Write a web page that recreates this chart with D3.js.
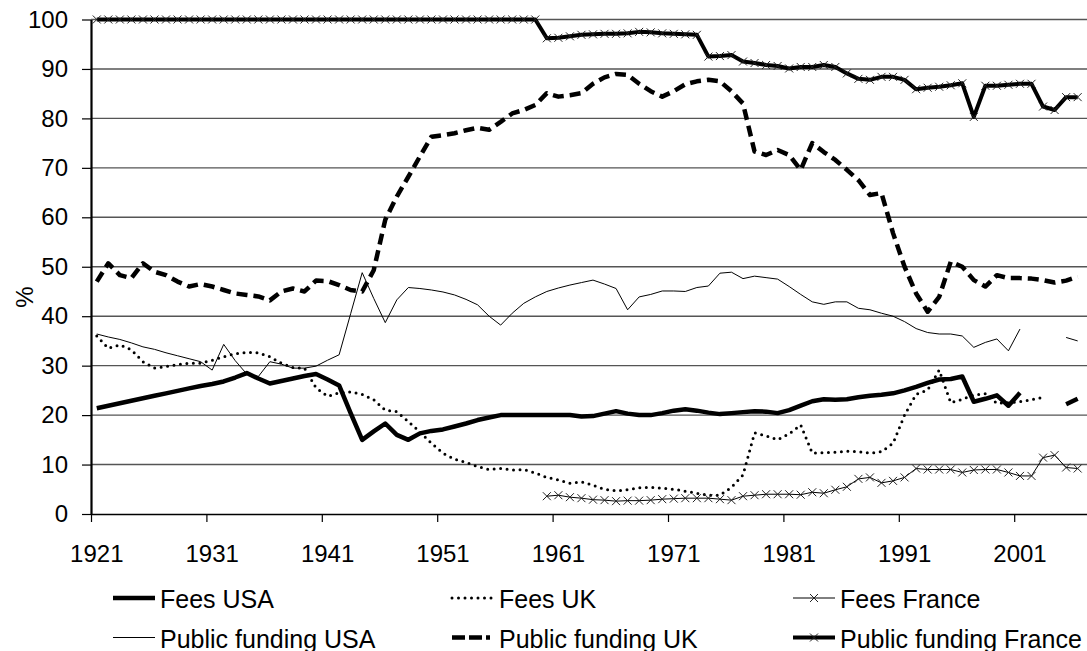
<!DOCTYPE html>
<html>
<head>
<meta charset="utf-8">
<script src="https://cdn.jsdelivr.net/npm/d3@7"></script>
<style>
  html, body { margin: 0; padding: 0; background: #fff; }
  svg { display: block; font-family: "Liberation Sans", Arial, sans-serif; }
</style>
</head>
<body>
<svg id="chart" width="1087" height="651"></svg>
<script>
// categories: one per year, 1921..2007 (last slot left empty)
const years = d3.range(1921, 2008);
const labelYears = [1921, 1931, 1941, 1951, 1961, 1971, 1981, 1991, 2001];
const yTicks = [0, 10, 20, 30, 40, 50, 60, 70, 80, 90, 100];

// series values (null = no data)
const feesUSA = [ // from 1921
  21.4, 21.9, 22.4, 22.9, 23.4, 23.9, 24.4, 24.9, 25.4, 25.9,
  26.3, 26.8, 27.6, 28.5, 27.4, 26.4, 26.9, 27.4, 27.9, 28.3,
  27.2, 26.0, 20.4, 15.0, 16.7, 18.3, 16.0, 15.0, 16.3, 16.8,
  17.1, 17.7, 18.3, 19.0, 19.5, 20.0, 20.0, 20.0, 20.0, 20.0,
  20.0, 20.0, 19.7, 19.8, 20.3, 20.8, 20.3, 20.0, 20.0, 20.4,
  20.9, 21.2, 20.9, 20.5, 20.2, 20.4, 20.6, 20.8, 20.7, 20.4,
  21.0, 21.9, 22.8, 23.2, 23.1, 23.2, 23.6, 23.9, 24.1, 24.4,
  25.0, 25.7, 26.5, 27.2, 27.3, 27.8, 22.7, 23.3, 24.0, 21.9,
  24.5, null, null, null, 22.2, 23.3
];
const feesUK = [ // from 1921
  36.0, 33.5, 34.2, 33.2, 30.8, 29.5, 29.8, 30.2, 30.5, 30.5,
  31.1, 31.8, 32.4, 32.7, 32.6, 31.8, 30.5, 29.6, 29.5, 25.5,
  23.8, 24.5, 24.7, 24.2, 23.1, 21.0, 20.7, 18.7, 16.6, 14.3,
  12.3, 11.1, 10.4, 9.6, 9.0, 9.2, 8.9, 9.0, 8.3, 7.4,
  6.9, 6.2, 6.5, 5.8, 5.0, 4.7, 4.9, 5.3, 5.4, 5.2,
  5.0, 4.6, 4.2, 3.8, 3.8, 5.4, 7.9, 16.4, 15.8, 15.0,
  16.2, 18.0, 12.3, 12.4, 12.5, 12.7, 12.6, 12.3, 12.6, 14.3,
  20.0, 24.2, 25.1, 29.1, 22.5, 23.2, 24.1, 24.3, 22.4, 22.5,
  22.7, 23.1, 23.6
];
const feesFrance = [ // from 1960
  3.6, 3.8, 3.4, 3.2, 2.9, 2.8, 2.6, 2.7, 2.7, 2.8,
  3.0, 3.1, 3.2, 3.2, 3.2, 3.0, 2.8, 3.6, 3.8, 4.0,
  4.0, 4.0, 3.9, 4.4, 4.2, 4.9, 5.5, 7.1, 7.4, 6.3,
  6.7, 7.4, 9.2, 9.0, 9.0, 9.0, 8.4, 8.9, 9.0, 9.0,
  8.4, 7.7, 7.7, 11.4, 11.9, 9.4, 9.2
];
const publicUSA = [ // from 1921
  36.4, 35.8, 35.3, 34.6, 33.8, 33.3, 32.6, 32.0, 31.4, 30.8,
  29.1, 34.3, 31.0, 28.3, 27.8, 30.8, 30.3, 29.5, 29.5, 29.9,
  31.1, 32.2, 40.5, 48.8, 43.6, 38.7, 43.3, 45.8, 45.6, 45.3,
  44.9, 44.3, 43.4, 42.3, 40.0, 38.2, 40.6, 42.6, 43.9, 45.0,
  45.7, 46.3, 46.8, 47.3, 46.5, 45.6, 41.3, 43.9, 44.4, 45.1,
  45.1, 45.0, 45.8, 46.1, 48.7, 48.9, 47.6, 48.1, 47.8, 47.5,
  46.0, 44.4, 42.9, 42.4, 42.9, 42.9, 41.6, 41.3, 40.6, 40.0,
  38.9, 37.5, 36.7, 36.4, 36.4, 36.0, 33.7, 34.7, 35.4, 33.0,
  37.4, null, null, null, 35.7, 35.0
];
const publicUK = [ // from 1921
  47.0, 50.7, 48.3, 47.7, 50.7, 49.0, 48.3, 47.0, 46.0, 46.5,
  46.0, 45.3, 44.6, 44.3, 44.0, 43.2, 45.0, 45.6, 45.0, 47.2,
  47.1, 46.3, 45.3, 45.0, 49.3, 59.5, 64.2, 68.2, 72.3, 76.3,
  76.6, 77.0, 77.6, 78.1, 77.7, 79.3, 81.0, 81.7, 82.7, 85.1,
  84.4, 84.7, 85.1, 87.0, 88.3, 89.0, 88.8, 87.0, 85.5, 84.4,
  85.5, 86.9, 87.5, 87.8, 87.5, 85.5, 83.0, 73.3, 72.6, 73.6,
  72.6, 69.6, 75.0, 73.2, 71.6, 69.6, 67.5, 64.5, 64.9, 56.8,
  50.0, 44.6, 40.9, 43.9, 51.0, 50.0, 47.3, 46.0, 48.3, 47.7,
  47.7, 47.6, 47.3, 46.8, 47.2, 48.0
];
const publicFrance = [ // from 1921
  100, 100, 100, 100, 100, 100, 100, 100, 100, 100,
  100, 100, 100, 100, 100, 100, 100, 100, 100, 100,
  100, 100, 100, 100, 100, 100, 100, 100, 100, 100,
  100, 100, 100, 100, 100, 100, 100, 100, 100, 96.2,
  96.3, 96.6, 96.9, 97.0, 97.1, 97.1, 97.2, 97.5, 97.4, 97.2,
  97.1, 97.0, 96.9, 92.5, 92.6, 92.8, 91.5, 91.2, 90.8, 90.6,
  90.1, 90.4, 90.4, 90.8, 90.4, 89.1, 88.0, 87.8, 88.4, 88.4,
  87.8, 85.9, 86.2, 86.4, 86.7, 87.1, 80.3, 86.6, 86.6, 86.8,
  87.0, 87.0, 82.4, 81.7, 84.3, 84.3
];

const series = [
  { name: "Fees USA", start: 1921, values: feesUSA, width: 4.5, dash: null },
  { name: "Fees UK", start: 1921, values: feesUK, width: 3, dash: "0,6.5", cap: "round" },
  { name: "Fees France", start: 1960, values: feesFrance, width: 1, dash: null, marker: true },
  { name: "Public funding USA", start: 1921, values: publicUSA, width: 1, dash: null },
  { name: "Public funding UK", start: 1921, values: publicUK, width: 4.5, dash: "11,6", legendDash: "13,4,13,4,4,60" },
  { name: "Public funding France", start: 1921, values: publicFrance, width: 4, dash: null, marker: true }
];

const svg = d3.select("#chart");
const plotLeft = 91, plotTop = 19.5, plotBottom = 514, catW = 11.54;

const x = d3.scaleBand().domain(years).range([plotLeft, plotLeft + years.length * catW]).padding(0);
const xEdge = d3.scaleLinear().domain([1921, 2008]).range([plotLeft, plotLeft + years.length * catW]);
const y = d3.scaleLinear().domain([0, 100]).range([plotBottom, plotTop]);
const cx = yr => x(yr) + x.bandwidth() / 2;

// gridlines
svg.append("g")
  .selectAll("line")
  .data(yTicks.filter(t => t > 0))
  .join("line")
  .attr("x1", plotLeft).attr("x2", xEdge(2008))
  .attr("y1", d => y(d)).attr("y2", d => y(d))
  .attr("stroke", "#555").attr("stroke-width", 1.4);

// x axis: tick marks at category boundaries, labels centred in category
const xTicks = svg.append("g")
  .attr("transform", `translate(0,${plotBottom})`)
  .call(d3.axisBottom(xEdge).tickValues(labelYears).tickSize(8).tickSizeOuter(0).tickFormat(""));
xTicks.select(".domain").attr("stroke", "#000").attr("stroke-width", 1.6);
xTicks.selectAll(".tick line").attr("stroke", "#000").attr("stroke-width", 1.2);

const xLabels = svg.append("g")
  .attr("transform", `translate(0,${plotBottom})`)
  .call(d3.axisBottom(x).tickValues(labelYears).tickSize(0).tickPadding(31));
xLabels.select(".domain").remove();
xLabels.selectAll("text").attr("font-size", 24).attr("font-family", "Liberation Sans, Arial, sans-serif").attr("fill", "#000");

// y axis
const yAxis = svg.append("g")
  .attr("transform", `translate(${plotLeft},0)`)
  .call(d3.axisLeft(y).tickValues(yTicks).tickSize(9).tickSizeOuter(0).tickPadding(14));
yAxis.select(".domain").attr("stroke", "#000").attr("stroke-width", 2.2);
yAxis.selectAll(".tick line").attr("stroke", "#000").attr("stroke-width", 1.2);
yAxis.selectAll("text").attr("font-size", 24).attr("font-family", "Liberation Sans, Arial, sans-serif").attr("fill", "#000");

svg.append("text")
  .attr("transform", "translate(24,297) rotate(-90)")
  .attr("text-anchor", "middle")
  .attr("dominant-baseline", "central")
  .attr("font-size", 24)
  .text("%");

// series
const crossPath = "M-4,-4L4,4M-4,4L4,-4";
const line = d3.line()
  .defined(d => d.v != null)
  .x(d => cx(d.year))
  .y(d => y(d.v));

const plot = svg.append("g");
series.forEach(s => {
  const pts = s.values.map((v, i) => ({ year: s.start + i, v }));
  plot.append("path")
    .datum(pts)
    .attr("fill", "none")
    .attr("stroke", "#000")
    .attr("stroke-width", s.width)
    .attr("stroke-linejoin", "round")
    .attr("stroke-linecap", s.cap || "butt")
    .attr("stroke-dasharray", s.dash)
    .attr("d", line);
  if (s.marker) {
    plot.append("g")
      .selectAll("path")
      .data(pts.filter(d => d.v != null))
      .join("path")
      .attr("transform", d => `translate(${cx(d.year)},${y(d.v)})`)
      .attr("d", crossPath)
      .attr("stroke", "#222")
      .attr("stroke-width", 1)
      .attr("fill", "none");
  }
});

// legend, two rows of three
const legendCols = [113, 452, 793];
const legendRows = [598, 637.5];
const legend = svg.append("g");
series.forEach((s, i) => {
  const lx = legendCols[i % 3], ly = legendRows[Math.floor(i / 3)];
  const g = legend.append("g");
  g.append("line")
    .attr("x1", lx).attr("x2", lx + 42)
    .attr("y1", ly).attr("y2", ly)
    .attr("stroke", "#000")
    .attr("stroke-width", s.width)
    .attr("stroke-linecap", s.cap || "butt")
    .attr("stroke-dasharray", s.legendDash || s.dash);
  if (s.marker) {
    g.append("path")
      .attr("transform", `translate(${lx + 21},${ly})`)
      .attr("d", crossPath)
      .attr("stroke", "#222").attr("stroke-width", 1).attr("fill", "none");
  }
  g.append("text")
    .attr("x", lx + 47).attr("y", ly + 10)
    .attr("font-size", 25)
    .text(s.name);
});
</script>
</body>
</html>
